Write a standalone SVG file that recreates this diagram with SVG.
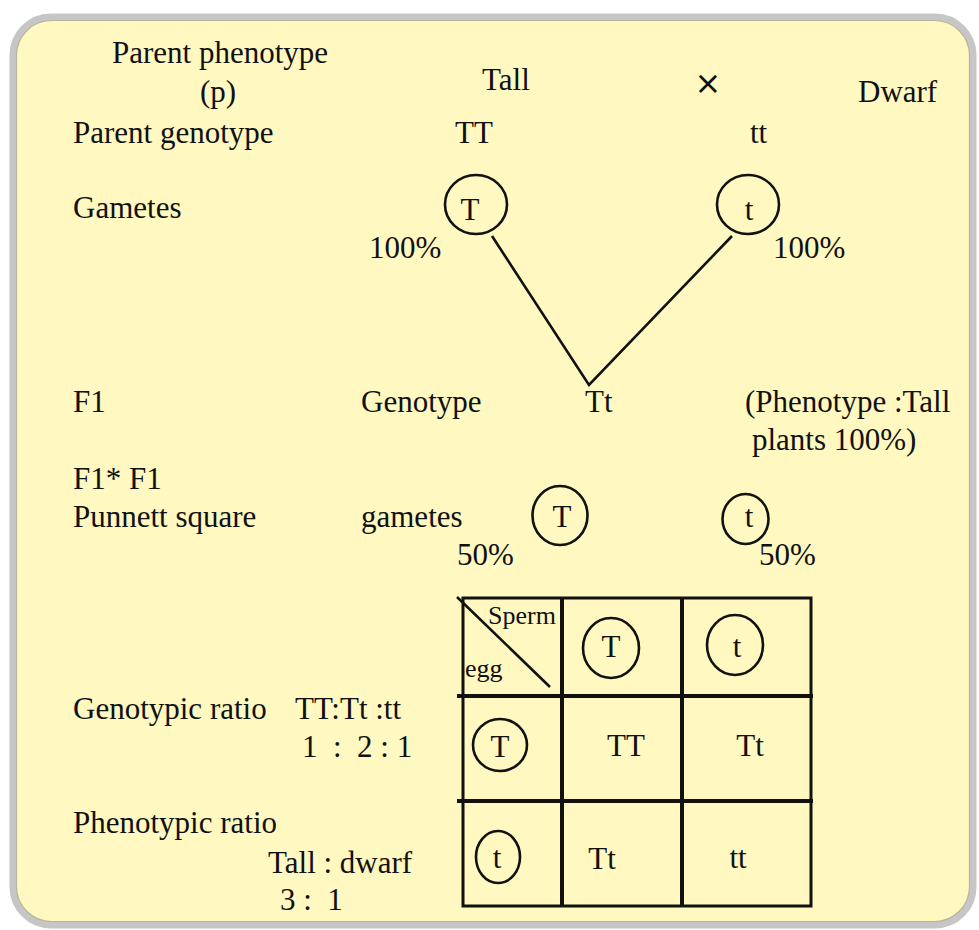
<svg xmlns="http://www.w3.org/2000/svg" width="979" height="930" viewBox="0 0 979 930">
<style>
text{font-family:"Liberation Serif","Times New Roman",serif;font-size:31px;fill:#111;white-space:pre}
.sm{font-size:26px}
.c{text-anchor:middle}
.ring{fill:none;stroke:#111;stroke-width:2.6}
.ln{fill:none;stroke:#111;stroke-width:2.6}
.grid{stroke:#111;stroke-width:4;fill:none}
.gout{stroke:#111;stroke-width:3;fill:none}
</style>
<rect x="13" y="17" width="960" height="908" rx="38" fill="#FFF8C0" stroke="#C6C6C6" stroke-width="7"/>
<rect x="16.5" y="20.5" width="953" height="901" rx="35" fill="none" stroke="#B8B49A" stroke-width="1.2"/>

<g id="labels">
<text x="112" y="63">Parent phenotype</text>
<text x="200" y="102">(p)</text>
<text x="73" y="143">Parent genotype</text>
<text x="73" y="218">Gametes</text>
<text x="73" y="412">F1</text>
<text x="361" y="412">Genotype</text>
<text x="73" y="489">F1* F1</text>
<text x="73" y="527">Punnett square</text>
<text x="361" y="527">gametes</text>
<text x="73" y="719">Genotypic ratio</text>
<text x="295" y="719">TT:Tt :tt</text>
<text x="302" y="757">1  :  2 : 1</text>
<text x="73" y="833">Phenotypic ratio</text>
<text x="268" y="873">Tall : dwarf</text>
<text x="280" y="910">3 :  1</text>
</g>

<g id="parent-tall">
<text x="482" y="90">Tall</text>
<text x="455" y="143">TT</text>
</g>
<g id="cross">
<text x="708" y="94" class="c" style="font-family:'DejaVu Sans',sans-serif;font-size:32px">×</text>
</g>
<g id="parent-dwarf">
<text x="858" y="102">Dwarf</text>
<text x="750" y="143">tt</text>
</g>

<g id="gamete-T">
<ellipse cx="476" cy="204.5" rx="31" ry="29.5" class="ring"/>
<text x="470" y="220" class="c">T</text>
<text x="369" y="258">100%</text>
</g>
<g id="gamete-t">
<ellipse cx="748" cy="204.5" rx="31" ry="29.5" class="ring"/>
<text x="749" y="220" class="c">t</text>
<text x="773" y="258">100%</text>
</g>

<g id="connectors">
<polyline points="492,236 589,385 732,236" class="ln"/>
</g>

<g id="f1">
<text x="585" y="412">Tt</text>
<text x="745" y="412">(Phenotype :Tall</text>
<text x="752" y="450">plants 100%)</text>
</g>

<g id="f1-gamete-T">
<ellipse cx="560" cy="515.5" rx="27.5" ry="29.5" class="ring"/>
<text x="562" y="527" class="c">T</text>
<text x="457" y="565">50%</text>
</g>
<g id="f1-gamete-t">
<ellipse cx="745.5" cy="519" rx="23" ry="25" class="ring"/>
<text x="749" y="527" class="c">t</text>
<text x="759" y="565">50%</text>
</g>

<g id="punnett">
<rect x="463" y="598" width="348" height="308" class="gout"/>
<line x1="562" y1="598" x2="562" y2="906" class="grid"/>
<line x1="682" y1="598" x2="682" y2="906" class="grid"/>
<line x1="457" y1="696" x2="813" y2="696" class="grid"/>
<line x1="457" y1="801" x2="813" y2="801" class="grid"/>
<line x1="457" y1="597" x2="550" y2="687" class="ln"/>
<text x="488" y="624" class="sm">Sperm</text>
<text x="465" y="677" class="sm">egg</text>
<ellipse cx="611" cy="648" rx="28" ry="30" class="ring"/>
<text x="611" y="657" class="c">T</text>
<ellipse cx="735" cy="645" rx="28" ry="30" class="ring"/>
<text x="737" y="657" class="c">t</text>
<ellipse cx="500" cy="745" rx="27" ry="26" class="ring"/>
<text x="500" y="757" class="c">T</text>
<text x="626" y="756" class="c">TT</text>
<text x="750" y="756" class="c">Tt</text>
<ellipse cx="498" cy="857" rx="22" ry="26" class="ring"/>
<text x="497" y="868" class="c">t</text>
<text x="602" y="869" class="c">Tt</text>
<text x="738" y="868" class="c">tt</text>
</g>
</svg>
